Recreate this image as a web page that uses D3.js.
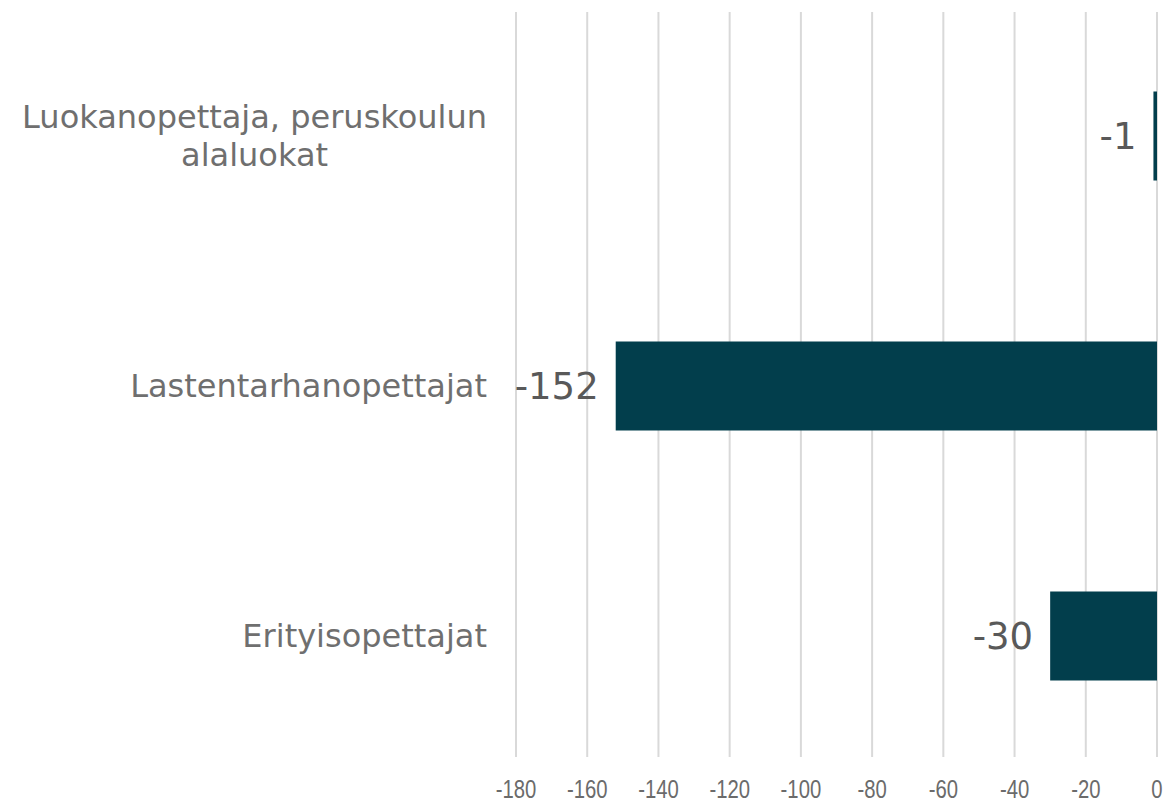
<!DOCTYPE html>
<html>
<head>
<meta charset="utf-8">
<script src="https://cdn.jsdelivr.net/npm/d3@7/dist/d3.min.js"></script>
<style>
body { margin: 0; background: #fff; }
svg { display: block; }
</style>
</head>
<body>
<div class="chart"></div>
<script>
var width = 1163,
	height = 804;
var categories = [["Luokanopettaja, peruskoulun", "alaluokat"], ["Lastentarhanopettajat"], ["Erityisopettajat"]];
var values = [-1, -152, -30];
var tickValues = [-180, -160, -140, -120, -100, -80, -60, -40, -20, 0];

var svg = d3.select(".chart").append("svg").attr("width", width).attr("height", height);

var x = d3.scaleLinear().domain([-180, 0]).range([516, 1157]);
var y = d3.scaleBand().domain(d3.range(values.length)).range([11, 761]).paddingInner(0.644).paddingOuter(0.322);

// gridlines
svg.append("g").selectAll("line").data(tickValues).enter().append("line")
	.attr("x1", d => x(d)).attr("x2", d => x(d))
	.attr("y1", 12).attr("y2", 757)
	.attr("stroke", "#d9d9d9").attr("stroke-width", 2);

// tick labels (narrow face)
svg.append("g").selectAll("text").data(tickValues).enter().append("text")
	.attr("transform", d => "translate(" + x(d) + ",798) scale(0.78,1)")
	.attr("text-anchor", "middle")
	.style("font-family", "'Liberation Sans', Arial, sans-serif")
	.style("font-size", "26px").attr("fill", "#6b6b6b")
	.text(d => d);

// bars
svg.append("g").selectAll("rect").data(values).enter().append("rect")
	.attr("x", d => x(d)).attr("width", d => x(0) - x(d))
	.attr("y", (d, i) => y(i)).attr("height", y.bandwidth())
	.attr("fill", "#023e4c");

// value labels
svg.append("g").selectAll("text").data(values).enter().append("text")
	.attr("x", d => x(d) - 17).attr("y", (d, i) => y(i) + y.bandwidth() / 2)
	.attr("dy", "0.36em").attr("text-anchor", "end")
	.style("font-family", "'DejaVu Sans', Verdana, sans-serif")
	.style("font-size", "37px").attr("fill", "#595959")
	.text(d => d);

// category labels
var labelRight = 487;
var lineH = 38;
categories.forEach(function(lines, i){
	var g = svg.append("g");
	var cy = y(i) + y.bandwidth() / 2;
	var t = g.selectAll("text").data(lines).enter().append("text")
		.attr("y", (d, j) => cy + (j - (lines.length - 1) / 2) * lineH)
		.attr("dy", "0.34em")
		.attr("text-anchor", "middle")
		.style("font-family", "'DejaVu Sans', Verdana, sans-serif")
		.style("font-size", "32px").attr("fill", "#6f6f6f")
		.text(d => d);
	var maxW = 0;
	t.each(function(){ maxW = Math.max(maxW, this.getComputedTextLength()); });
	t.attr("x", labelRight - maxW / 2);
});
</script>
</body>
</html>
